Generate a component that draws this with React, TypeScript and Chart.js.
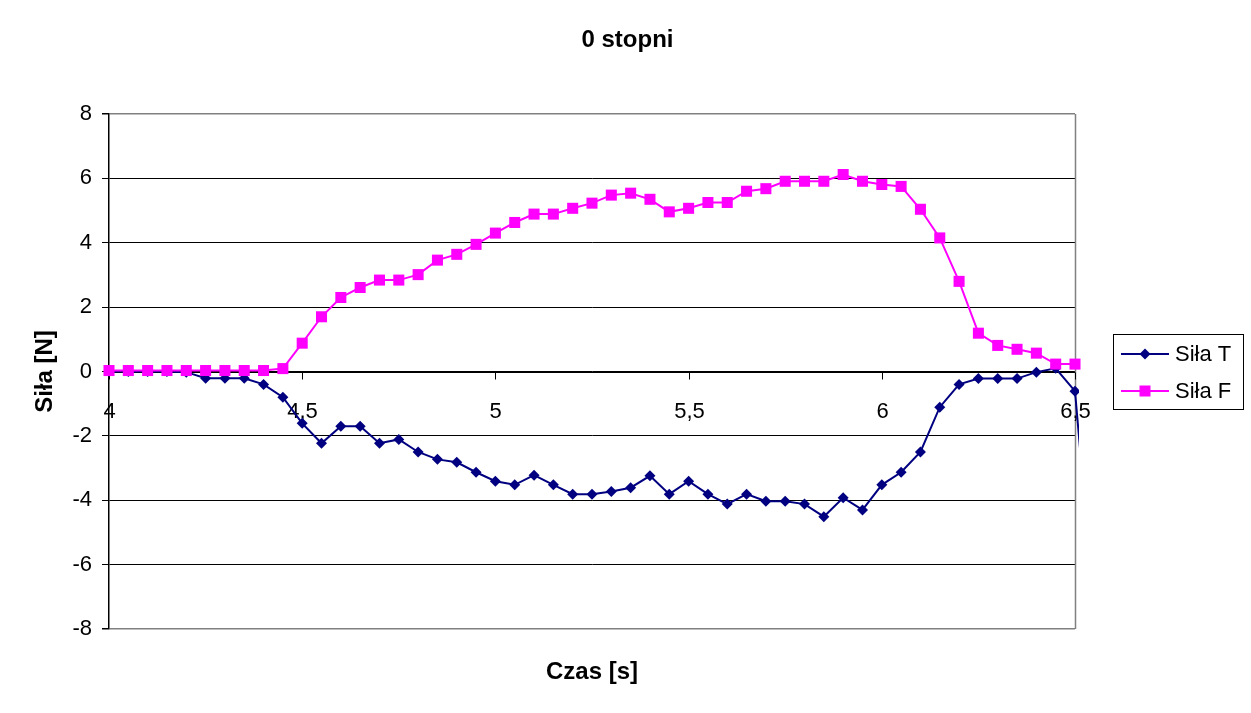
import React, { useEffect, useRef } from "react";
import { Chart, registerables } from "chart.js";

Chart.register(...registerables);

const chartTitle = "0 stopni";
const xTitle = "Czas [s]";
const yTitle = "Siła [N]";
const seriesNames = ["Siła T", "Siła F"];

const times = [
  4.0, 4.05, 4.1, 4.15, 4.2, 4.25, 4.3, 4.35, 4.4, 4.45,
  4.5, 4.55, 4.6, 4.65, 4.7, 4.75, 4.8, 4.85, 4.9, 4.95,
  5.0, 5.05, 5.1, 5.15, 5.2, 5.25, 5.3, 5.35, 5.4, 5.45,
  5.5, 5.55, 5.6, 5.65, 5.7, 5.75, 5.8, 5.85, 5.9, 5.95,
  6.0, 6.05, 6.1, 6.15, 6.2, 6.25, 6.3, 6.35, 6.4, 6.45,
  6.5, 6.55,
];

const silaT = [
  0, 0, 0, 0, -0.02, -0.21, -0.21, -0.21, -0.4, -0.8,
  -1.61, -2.23, -1.7, -1.7, -2.23, -2.11, -2.5, -2.73, -2.82, -3.13,
  -3.41, -3.52, -3.22, -3.52, -3.81, -3.81, -3.73, -3.61, -3.24, -3.81,
  -3.41, -3.81, -4.12, -3.81, -4.03, -4.03, -4.12, -4.51, -3.92, -4.3,
  -3.52, -3.13, -2.5, -1.11, -0.4, -0.22, -0.22, -0.22, -0.02, 0.1,
  -0.61, -7.5,
];

const silaF = [
  0.03, 0.03, 0.03, 0.03, 0.03, 0.03, 0.03, 0.03, 0.03, 0.09,
  0.88, 1.7, 2.3, 2.61, 2.84, 2.84, 3.01, 3.46, 3.64, 3.95,
  4.3, 4.63, 4.89, 4.89, 5.07, 5.23, 5.48, 5.54, 5.35, 4.96,
  5.07, 5.25, 5.25, 5.6, 5.68, 5.91, 5.91, 5.91, 6.12, 5.91,
  5.81, 5.75, 5.04, 4.15, 2.8, 1.19, 0.81, 0.69, 0.57, 0.23,
  0.23,
];

const xMin = 4;
const xMax = 6.5;
const xTicks = [4, 4.5, 5, 5.5, 6, 6.5];

const FONT = "'Liberation Sans', Arial, sans-serif";
const NAVY = "#000080";
const MAGENTA = "#FF00FF";

function fmt(v: number) {
  return String(v).replace(".", ",");
}

function drawMarker(ctx: CanvasRenderingContext2D, kind: string, x: number, y: number, color: string) {
  ctx.save();
  ctx.fillStyle = color;
  ctx.beginPath();
  if (kind === "diamond") {
    const r = 5.5;
    ctx.moveTo(x, y - r);
    ctx.lineTo(x + r, y);
    ctx.lineTo(x, y + r);
    ctx.lineTo(x - r, y);
    ctx.closePath();
  } else {
    const s = 5.5;
    ctx.rect(x - s, y - s, 2 * s, 2 * s);
  }
  ctx.fill();
  ctx.restore();
}

const decorPlugin = {
  id: "excelDecor",
  beforeDatasetsDraw(chart: any) {
    const { ctx, chartArea, scales } = chart;
    const x = scales.x;
    const y = scales.y;
    const y0 = Math.round(y.getPixelForValue(0)) + 0.5;
    ctx.save();
    ctx.strokeStyle = "#808080";
    ctx.lineWidth = 1.5;
    ctx.beginPath();
    ctx.moveTo(chartArea.right + 0.5, chartArea.top);
    ctx.lineTo(chartArea.right + 0.5, chartArea.bottom);
    ctx.stroke();
    ctx.strokeStyle = "#000";
    ctx.lineWidth = 1;
    ctx.beginPath();
    ctx.moveTo(chartArea.left, y0);
    ctx.lineTo(chartArea.right, y0);
    ctx.stroke();
    ctx.fillStyle = "#000";
    ctx.font = `22px ${FONT}`;
    ctx.textAlign = "center";
    ctx.textBaseline = "middle";
    xTicks.forEach((t) => {
      const px = Math.round(x.getPixelForValue(t)) + 0.5;
      ctx.beginPath();
      ctx.moveTo(px, y0);
      ctx.lineTo(px, y0 + 7);
      ctx.stroke();
      ctx.fillText(fmt(t), px, y0 + 39);
    });
    ctx.restore();
  },
  afterDraw(chart: any) {
    const { ctx, chartArea, width } = chart;
    ctx.save();
    ctx.fillStyle = "#000";
    ctx.textBaseline = "middle";
    ctx.textAlign = "center";
    ctx.font = `bold 24px ${FONT}`;
    ctx.fillText(chartTitle, width / 2 + 2, 40);
    ctx.fillText(xTitle, (chartArea.left + chartArea.right) / 2, 672);
    ctx.save();
    ctx.translate(45, (chartArea.top + chartArea.bottom) / 2);
    ctx.rotate(-Math.PI / 2);
    ctx.fillText(yTitle, 0, 0);
    ctx.restore();

    const bx = 1113.5, by = 334.5, bw = 130, bh = 75;
    ctx.strokeStyle = "#000";
    ctx.lineWidth = 1;
    ctx.strokeRect(bx, by, bw, bh);
    const rows = [
      { name: seriesNames[0], color: NAVY, kind: "diamond", y: 354 },
      { name: seriesNames[1], color: MAGENTA, kind: "square", y: 391 },
    ];
    rows.forEach((r) => {
      ctx.strokeStyle = r.color;
      ctx.lineWidth = 2;
      ctx.beginPath();
      ctx.moveTo(1121, r.y);
      ctx.lineTo(1169, r.y);
      ctx.stroke();
      drawMarker(ctx, r.kind, 1145, r.y, r.color);
      ctx.fillStyle = "#000";
      ctx.font = `22px ${FONT}`;
      ctx.textAlign = "left";
      ctx.fillText(r.name, 1175, r.y + 1);
    });
    ctx.restore();
  },
};

export default function App() {
  const ref = useRef<HTMLCanvasElement | null>(null);

  useEffect(() => {
    document.body.style.margin = "0";
    const canvas = ref.current;
    if (!canvas) return;
    const dataT = silaT.map((v, i) => ({ x: times[i], y: v }));
    const dataF = silaF.map((v, i) => ({ x: times[i], y: v }));
    const chart = new Chart(canvas, {
      type: "line",
      data: {
        datasets: [
          {
            label: seriesNames[0],
            data: dataT,
            borderColor: NAVY,
            backgroundColor: NAVY,
            borderWidth: 2,
            pointStyle: "rectRot",
            pointRadius: 5.5,
            pointBorderWidth: 0,
            tension: 0,
            order: 1,
            clip: { left: 8, right: 4, top: 8, bottom: 8 },
          } as any,
          {
            label: seriesNames[1],
            data: dataF,
            borderColor: MAGENTA,
            backgroundColor: MAGENTA,
            borderWidth: 2,
            pointStyle: "rect",
            pointRadius: 7.8,
            pointBorderWidth: 0,
            tension: 0,
            order: 0,
            clip: { left: 8, right: 8, top: 8, bottom: 8 },
          } as any,
        ],
      },
      options: {
        responsive: false,
        animation: false,
        devicePixelRatio: 1,
        layout: { padding: { left: 0, right: 176, top: 114, bottom: 84 } },
        plugins: {
          legend: { display: false },
          title: { display: false },
          tooltip: { enabled: false },
        },
        scales: {
          x: {
            type: "linear",
            display: false,
            afterDataLimits: (s: any) => {
              s.min = xMin;
              s.max = xMax;
            },
          },
          y: {
            type: "linear",
            min: -8,
            max: 8,
            afterFit: (s: any) => {
              s.width = 109;
            },
            ticks: {
              stepSize: 2,
              color: "#000",
              padding: 10,
              font: { family: FONT, size: 22 },
            },
            grid: {
              color: (c: any) =>
                c.tick && (c.tick.value === 8 || c.tick.value === -8) ? "#808080" : "#000",
              lineWidth: (c: any) =>
                c.tick && (c.tick.value === 8 || c.tick.value === -8) ? 1.5 : 1,
              tickColor: "#000",
              tickLength: 7,
              drawTicks: true,
            },
            border: { color: "#000", width: 1.5 },
          },
        },
      } as any,
      plugins: [decorPlugin],
    });
    return () => chart.destroy();
  }, []);

  return (
    <div style={{ width: 1251, height: 713, background: "#fff" }}>
      <canvas ref={ref} width={1251} height={713} style={{ display: "block" }} />
    </div>
  );
}
